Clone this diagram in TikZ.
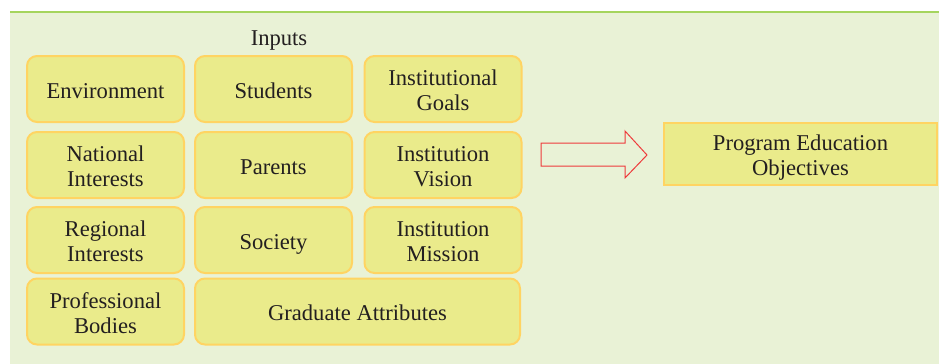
\documentclass[tikz,border=0pt]{standalone}
\usepackage{fontspec}
\setmainfont{Liberation Serif}
\definecolor{panel}{HTML}{E9F2D6}
\definecolor{topline}{HTML}{A5D55D}
\definecolor{boxfill}{HTML}{EAEB8B}
\definecolor{boxline}{HTML}{FFD462}
\definecolor{arrowred}{HTML}{EE3B3B}
\definecolor{ink}{HTML}{231F20}
\tikzstyle{inbox}=[rectangle, rounded corners=5pt, draw=boxline, fill=boxfill, line width=1pt, inner sep=0pt, minimum width=78.5pt, minimum height=33pt, text=ink]
\newcommand{\inbox}{\node[inbox]}
% text block, pushed down a little inside its box
\newcommand{\boxtext}[1]{\raisebox{0pt}[\dimexpr\height+4.2pt\relax]{\begin{tabular}{@{}c@{}}#1\end{tabular}}}

\begin{document}
\begin{tikzpicture}[x=0.5pt, y=-0.5pt, font=\fontsize{11.3}{12.4}\selectfont]
\useasboundingbox (0,0) rectangle (939,364);
\fill[panel] (10,12) rectangle (939,364);
\draw[topline, line width=0.75pt] (10,12) -- (939,12);
\node[text=ink] (inputs) at (279,40.5) {Inputs};
\inbox (env) at (105.5,89) {\boxtext{Environment}};
\inbox (stu) at (273.5,89) {\boxtext{Students}};
\inbox (goals) at (443,89) {\boxtext{Institutional\\Goals}};
\inbox (nat) at (105.5,165) {\boxtext{National\\Interests}};
\inbox (par) at (273.5,165) {\boxtext{Parents}};
\inbox (vis) at (443,165) {\boxtext{Institution\\Vision}};
\inbox (reg) at (105.5,240) {\boxtext{Regional\\Interests}};
\inbox (soc) at (273.5,240) {\boxtext{Society}};
\inbox (mis) at (443,240) {\boxtext{Institution\\Mission}};
\inbox (prof) at (105.5,311.5) {\boxtext{Professional\\Bodies}};
\inbox[minimum width=162.5pt] (grad) at (357.5,311.5) {\boxtext{Graduate Attributes}};
\node[inbox, rounded corners=0pt, minimum width=136.5pt, minimum height=31pt] (peo) at (800.5,154) {\boxtext{Program Education\\Objectives}};
\draw[arrowred, line width=0.5pt] (541,143) -- (625,143) -- (625,131) -- (647,155) -- (625,178) -- (625,166) -- (541,166) -- cycle;
\end{tikzpicture}
\end{document}
